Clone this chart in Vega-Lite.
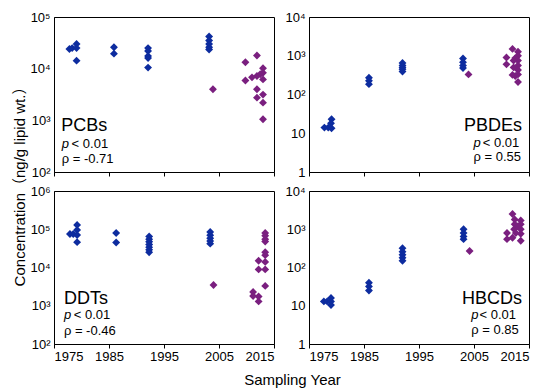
{
  "$schema": "https://vega.github.io/schema/vega-lite/v6.json",
  "padding": {"left": 11, "top": 10, "right": 5, "bottom": 5},
  "background": "white",
  "config": {
    "view": {"stroke": "black", "strokeWidth": 1},
    "axis": {"labelFont": "Liberation Sans", "labelFontSize": 13, "labelColor": "black", "titleFont": "Liberation Sans, Noto Sans CJK SC", "titleColor": "black", "titleFontWeight": "normal", "titleFontSize": 15, "grid": false, "domainColor": "black", "tickColor": "black"}
  },
  "datasets": {
    "pts": [
      {"c": "PCBs", "g": "a", "year": 1977.8, "conc": 24000},
      {"c": "PCBs", "g": "a", "year": 1978.3, "conc": 25000},
      {"c": "PCBs", "g": "a", "year": 1979.1, "conc": 30000},
      {"c": "PCBs", "g": "a", "year": 1979.1, "conc": 25000},
      {"c": "PCBs", "g": "a", "year": 1979.1, "conc": 14300},
      {"c": "PCBs", "g": "a", "year": 1985.9, "conc": 26000},
      {"c": "PCBs", "g": "a", "year": 1985.9, "conc": 19500},
      {"c": "PCBs", "g": "a", "year": 1992.1, "conc": 25000},
      {"c": "PCBs", "g": "a", "year": 1992.1, "conc": 22000},
      {"c": "PCBs", "g": "a", "year": 1992.1, "conc": 17500},
      {"c": "PCBs", "g": "a", "year": 1992.1, "conc": 16000},
      {"c": "PCBs", "g": "a", "year": 1992.1, "conc": 10500},
      {"c": "PCBs", "g": "a", "year": 2003.2, "conc": 42000},
      {"c": "PCBs", "g": "a", "year": 2003.2, "conc": 35000},
      {"c": "PCBs", "g": "a", "year": 2003.2, "conc": 30000},
      {"c": "PCBs", "g": "a", "year": 2003.2, "conc": 26000},
      {"c": "PCBs", "g": "a", "year": 2003.2, "conc": 23500},
      {"c": "PCBs", "g": "b", "year": 2003.9, "conc": 4000},
      {"c": "PCBs", "g": "b", "year": 2009.8, "conc": 13300},
      {"c": "PCBs", "g": "b", "year": 2011.9, "conc": 18000},
      {"c": "PCBs", "g": "b", "year": 2009.8, "conc": 5900},
      {"c": "PCBs", "g": "b", "year": 2011.0, "conc": 6800},
      {"c": "PCBs", "g": "b", "year": 2011.9, "conc": 7200},
      {"c": "PCBs", "g": "b", "year": 2013.0, "conc": 10200},
      {"c": "PCBs", "g": "b", "year": 2013.0, "conc": 8300},
      {"c": "PCBs", "g": "b", "year": 2012.5, "conc": 7800},
      {"c": "PCBs", "g": "b", "year": 2013.0, "conc": 6200},
      {"c": "PCBs", "g": "b", "year": 2011.9, "conc": 4000},
      {"c": "PCBs", "g": "b", "year": 2011.9, "conc": 2750},
      {"c": "PCBs", "g": "b", "year": 2013.0, "conc": 3150},
      {"c": "PCBs", "g": "b", "year": 2013.0, "conc": 2200},
      {"c": "PCBs", "g": "b", "year": 2013.0, "conc": 1050},

      {"c": "PBDEs", "g": "a", "year": 1977.8, "conc": 14},
      {"c": "PBDEs", "g": "a", "year": 1978.5, "conc": 14},
      {"c": "PBDEs", "g": "a", "year": 1979.1, "conc": 23},
      {"c": "PBDEs", "g": "a", "year": 1979.0, "conc": 18},
      {"c": "PBDEs", "g": "a", "year": 1979.1, "conc": 13.5},
      {"c": "PBDEs", "g": "a", "year": 1985.9, "conc": 270},
      {"c": "PBDEs", "g": "a", "year": 1985.9, "conc": 225},
      {"c": "PBDEs", "g": "a", "year": 1985.9, "conc": 185},
      {"c": "PBDEs", "g": "a", "year": 1992.0, "conc": 650},
      {"c": "PBDEs", "g": "a", "year": 1992.0, "conc": 560},
      {"c": "PBDEs", "g": "a", "year": 1992.0, "conc": 500},
      {"c": "PBDEs", "g": "a", "year": 1992.0, "conc": 450},
      {"c": "PBDEs", "g": "a", "year": 1992.0, "conc": 390},
      {"c": "PBDEs", "g": "a", "year": 2003.0, "conc": 850},
      {"c": "PBDEs", "g": "a", "year": 2003.0, "conc": 680},
      {"c": "PBDEs", "g": "a", "year": 2003.0, "conc": 560},
      {"c": "PBDEs", "g": "a", "year": 2003.0, "conc": 480},
      {"c": "PBDEs", "g": "b", "year": 2004.0, "conc": 330},
      {"c": "PBDEs", "g": "b", "year": 2012.0, "conc": 1500},
      {"c": "PBDEs", "g": "b", "year": 2010.9, "conc": 900},
      {"c": "PBDEs", "g": "b", "year": 2010.9, "conc": 600},
      {"c": "PBDEs", "g": "b", "year": 2012.2, "conc": 750},
      {"c": "PBDEs", "g": "b", "year": 2013.0, "conc": 1270},
      {"c": "PBDEs", "g": "b", "year": 2013.0, "conc": 1000},
      {"c": "PBDEs", "g": "b", "year": 2013.0, "conc": 750},
      {"c": "PBDEs", "g": "b", "year": 2013.0, "conc": 560},
      {"c": "PBDEs", "g": "b", "year": 2013.0, "conc": 430},
      {"c": "PBDEs", "g": "b", "year": 2013.0, "conc": 330},
      {"c": "PBDEs", "g": "b", "year": 2013.0, "conc": 210},
      {"c": "PBDEs", "g": "b", "year": 2012.0, "conc": 320},
      {"c": "PBDEs", "g": "b", "year": 2012.5, "conc": 300},
      {"c": "PBDEs", "g": "b", "year": 2012.2, "conc": 500},
      {"c": "PBDEs", "g": "b", "year": 2012.5, "conc": 870},

      {"c": "DDTs", "g": "a", "year": 1977.9, "conc": 75000},
      {"c": "DDTs", "g": "a", "year": 1978.5, "conc": 75000},
      {"c": "DDTs", "g": "a", "year": 1979.2, "conc": 130000},
      {"c": "DDTs", "g": "a", "year": 1979.2, "conc": 96000},
      {"c": "DDTs", "g": "a", "year": 1979.2, "conc": 71000},
      {"c": "DDTs", "g": "a", "year": 1979.2, "conc": 46000},
      {"c": "DDTs", "g": "a", "year": 1986.3, "conc": 80000},
      {"c": "DDTs", "g": "a", "year": 1986.3, "conc": 45000},
      {"c": "DDTs", "g": "a", "year": 1992.3, "conc": 65000},
      {"c": "DDTs", "g": "a", "year": 1992.3, "conc": 55000},
      {"c": "DDTs", "g": "a", "year": 1992.3, "conc": 47000},
      {"c": "DDTs", "g": "a", "year": 1992.3, "conc": 40000},
      {"c": "DDTs", "g": "a", "year": 1992.3, "conc": 34000},
      {"c": "DDTs", "g": "a", "year": 1992.3, "conc": 29000},
      {"c": "DDTs", "g": "a", "year": 1992.3, "conc": 25000},
      {"c": "DDTs", "g": "a", "year": 2003.4, "conc": 85000},
      {"c": "DDTs", "g": "a", "year": 2003.4, "conc": 70000},
      {"c": "DDTs", "g": "a", "year": 2003.4, "conc": 58000},
      {"c": "DDTs", "g": "a", "year": 2003.4, "conc": 49000},
      {"c": "DDTs", "g": "a", "year": 2003.4, "conc": 42000},
      {"c": "DDTs", "g": "b", "year": 2004.0, "conc": 3500},
      {"c": "DDTs", "g": "b", "year": 2013.4, "conc": 80000},
      {"c": "DDTs", "g": "b", "year": 2013.4, "conc": 68000},
      {"c": "DDTs", "g": "b", "year": 2013.4, "conc": 55000},
      {"c": "DDTs", "g": "b", "year": 2013.4, "conc": 48000},
      {"c": "DDTs", "g": "b", "year": 2013.4, "conc": 25000},
      {"c": "DDTs", "g": "b", "year": 2013.4, "conc": 21000},
      {"c": "DDTs", "g": "b", "year": 2013.4, "conc": 14000},
      {"c": "DDTs", "g": "b", "year": 2013.4, "conc": 8900},
      {"c": "DDTs", "g": "b", "year": 2012.2, "conc": 15000},
      {"c": "DDTs", "g": "b", "year": 2012.2, "conc": 8900},
      {"c": "DDTs", "g": "b", "year": 2013.4, "conc": 3300},
      {"c": "DDTs", "g": "b", "year": 2011.2, "conc": 2300},
      {"c": "DDTs", "g": "b", "year": 2011.2, "conc": 1800},
      {"c": "DDTs", "g": "b", "year": 2012.2, "conc": 1750},
      {"c": "DDTs", "g": "b", "year": 2012.2, "conc": 1300},

      {"c": "HBCDs", "g": "a", "year": 1977.7, "conc": 13},
      {"c": "HBCDs", "g": "a", "year": 1978.3, "conc": 13},
      {"c": "HBCDs", "g": "a", "year": 1979.0, "conc": 16},
      {"c": "HBCDs", "g": "a", "year": 1979.0, "conc": 13},
      {"c": "HBCDs", "g": "a", "year": 1979.0, "conc": 10.5},
      {"c": "HBCDs", "g": "a", "year": 1985.9, "conc": 40},
      {"c": "HBCDs", "g": "a", "year": 1985.9, "conc": 32},
      {"c": "HBCDs", "g": "a", "year": 1985.9, "conc": 25},
      {"c": "HBCDs", "g": "a", "year": 1992.0, "conc": 320},
      {"c": "HBCDs", "g": "a", "year": 1992.0, "conc": 260},
      {"c": "HBCDs", "g": "a", "year": 1992.0, "conc": 215},
      {"c": "HBCDs", "g": "a", "year": 1992.0, "conc": 180},
      {"c": "HBCDs", "g": "a", "year": 1992.0, "conc": 150},
      {"c": "HBCDs", "g": "a", "year": 2003.1, "conc": 1000},
      {"c": "HBCDs", "g": "a", "year": 2003.1, "conc": 800},
      {"c": "HBCDs", "g": "a", "year": 2003.1, "conc": 650},
      {"c": "HBCDs", "g": "a", "year": 2003.1, "conc": 550},
      {"c": "HBCDs", "g": "b", "year": 2004.2, "conc": 270},
      {"c": "HBCDs", "g": "b", "year": 2012.0, "conc": 2500},
      {"c": "HBCDs", "g": "b", "year": 2011.0, "conc": 800},
      {"c": "HBCDs", "g": "b", "year": 2011.0, "conc": 550},
      {"c": "HBCDs", "g": "b", "year": 2012.4, "conc": 1800},
      {"c": "HBCDs", "g": "b", "year": 2012.4, "conc": 1350},
      {"c": "HBCDs", "g": "b", "year": 2013.5, "conc": 1700},
      {"c": "HBCDs", "g": "b", "year": 2013.5, "conc": 1350},
      {"c": "HBCDs", "g": "b", "year": 2013.5, "conc": 1000},
      {"c": "HBCDs", "g": "b", "year": 2013.5, "conc": 760},
      {"c": "HBCDs", "g": "b", "year": 2013.5, "conc": 500},
      {"c": "HBCDs", "g": "b", "year": 2012.3, "conc": 1000},
      {"c": "HBCDs", "g": "b", "year": 2012.6, "conc": 800},
      {"c": "HBCDs", "g": "b", "year": 2012.0, "conc": 600},
      {"c": "HBCDs", "g": "b", "year": 2013.0, "conc": 1200}
    ],
    "lbl": [
      {"c": "PCBs", "k": "name", "t": "PCBs", "year": 1976.3, "conc": 620},
      {"c": "PCBs", "k": "p", "t": "p", "year": 1976.4, "conc": 285},
      {"c": "PCBs", "k": "stat", "t": "< 0.01", "year": 1978.2, "conc": 285},
      {"c": "PCBs", "k": "stat", "t": "ρ = -0.71", "year": 1976.4, "conc": 147},
      {"c": "PBDEs", "k": "name", "t": "PBDEs", "year": 2003.2, "conc": 11.6},
      {"c": "PBDEs", "k": "p", "t": "p", "year": 2004.9, "conc": 4.5},
      {"c": "PBDEs", "k": "stat", "t": "< 0.01", "year": 2006.6, "conc": 4.5},
      {"c": "PBDEs", "k": "stat", "t": "ρ = 0.55", "year": 2004.9, "conc": 1.9},
      {"c": "DDTs", "k": "name", "t": "DDTs", "year": 1976.8, "conc": 1100},
      {"c": "DDTs", "k": "p", "t": "p", "year": 1976.8, "conc": 440},
      {"c": "DDTs", "k": "stat", "t": "< 0.01", "year": 1978.6, "conc": 440},
      {"c": "DDTs", "k": "stat", "t": "ρ = -0.46", "year": 1976.8, "conc": 172},
      {"c": "HBCDs", "k": "name", "t": "HBCDs", "year": 2002.8, "conc": 11.3},
      {"c": "HBCDs", "k": "p", "t": "p", "year": 2004.5, "conc": 4.55},
      {"c": "HBCDs", "k": "stat", "t": "< 0.01", "year": 2006.0, "conc": 4.55},
      {"c": "HBCDs", "k": "stat", "t": "ρ = 0.85", "year": 2004.5, "conc": 1.8}
    ]
  },
  "concat": [
    {
      "width": 220, "height": 155,
      "encoding": {
        "x": {"field": "year", "type": "quantitative", "scale": {"domain": [1975, 2015], "nice": false, "zero": false},
              "axis": {"values": [1975, 1985, 1995, 2005, 2015], "labels": false, "tickSize": 4, "title": null}},
        "y": {"field": "conc", "type": "quantitative", "scale": {"type": "log", "domain": [100, 100000], "nice": false},
              "axis": {"values": [100, 1000, 10000, 100000], "ticks": false, "labelPadding": 4, "labelExpr": "datum.value < 5 ? '1' : datum.value < 50 ? '10' : '10' + ['','','²','³','⁴','⁵','⁶'][round(log(datum.value)/LN10)]",
                       "title": "Concentration（ng/g lipid wt.）", "titleX": -35, "titleY": 165.5, "titleAngle": -90, "titleAlign": "center", "titleBaseline": "middle"}}
      },
      "layer": [
        {"data": {"name": "pts"}, "transform": [{"filter": "datum.c === 'PCBs'"}],
         "mark": {"type": "point", "shape": "diamond", "filled": true, "size": 62, "opacity": 1},
         "encoding": {"color": {"field": "g", "type": "nominal", "scale": {"domain": ["a", "b"], "range": ["#0d2c9f", "#7a1f7f"]}, "legend": null}}},
        {"data": {"name": "lbl"}, "transform": [{"filter": "datum.c === 'PCBs' && datum.k === 'name'"}],
         "mark": {"type": "text", "align": "left", "baseline": "alphabetic", "fontSize": 18, "font": "Liberation Sans", "color": "black"},
         "encoding": {"text": {"field": "t"}}},
        {"data": {"name": "lbl"}, "transform": [{"filter": "datum.c === 'PCBs' && datum.k === 'stat'"}],
         "mark": {"type": "text", "align": "left", "baseline": "alphabetic", "fontSize": 13, "font": "Liberation Sans", "color": "black"},
         "encoding": {"text": {"field": "t"}}},
        {"data": {"name": "lbl"}, "transform": [{"filter": "datum.c === 'PCBs' && datum.k === 'p'"}],
         "mark": {"type": "text", "align": "left", "baseline": "alphabetic", "fontSize": 13, "fontStyle": "italic", "font": "Liberation Sans", "color": "black"},
         "encoding": {"text": {"field": "t"}}}
      ]
    },
    {
      "width": 220, "height": 155,
      "encoding": {
        "x": {"field": "year", "type": "quantitative", "scale": {"domain": [1975, 2015], "nice": false, "zero": false},
              "axis": {"values": [1975, 1985, 1995, 2005, 2015], "labels": false, "tickSize": 4, "title": null}},
        "y": {"field": "conc", "type": "quantitative", "scale": {"type": "log", "domain": [1, 10000], "nice": false},
              "axis": {"values": [1, 10, 100, 1000, 10000], "ticks": false, "labelPadding": 4, "labelExpr": "datum.value < 5 ? '1' : datum.value < 50 ? '10' : '10' + ['','','²','³','⁴','⁵','⁶'][round(log(datum.value)/LN10)]", "title": null}}
      },
      "layer": [
        {"data": {"name": "pts"}, "transform": [{"filter": "datum.c === 'PBDEs'"}],
         "mark": {"type": "point", "shape": "diamond", "filled": true, "size": 62, "opacity": 1},
         "encoding": {"color": {"field": "g", "type": "nominal", "scale": {"domain": ["a", "b"], "range": ["#0d2c9f", "#7a1f7f"]}, "legend": null}}},
        {"data": {"name": "lbl"}, "transform": [{"filter": "datum.c === 'PBDEs' && datum.k === 'name'"}],
         "mark": {"type": "text", "align": "left", "baseline": "alphabetic", "fontSize": 18, "font": "Liberation Sans", "color": "black"},
         "encoding": {"text": {"field": "t"}}},
        {"data": {"name": "lbl"}, "transform": [{"filter": "datum.c === 'PBDEs' && datum.k === 'stat'"}],
         "mark": {"type": "text", "align": "left", "baseline": "alphabetic", "fontSize": 13, "font": "Liberation Sans", "color": "black"},
         "encoding": {"text": {"field": "t"}}},
        {"data": {"name": "lbl"}, "transform": [{"filter": "datum.c === 'PBDEs' && datum.k === 'p'"}],
         "mark": {"type": "text", "align": "left", "baseline": "alphabetic", "fontSize": 13, "fontStyle": "italic", "font": "Liberation Sans", "color": "black"},
         "encoding": {"text": {"field": "t"}}}
      ]
    },
    {
      "width": 220, "height": 153,
      "encoding": {
        "x": {"field": "year", "type": "quantitative", "scale": {"domain": [1975, 2015], "nice": false, "zero": false},
              "axis": {"values": [1975, 1985, 1995, 2005, 2015], "format": "d", "tickSize": 4, "labelPadding": 2,
                       "title": "Sampling Year", "titleX": 238, "titleAlign": "center", "titlePadding": 9}},
        "y": {"field": "conc", "type": "quantitative", "scale": {"type": "log", "domain": [100, 1000000], "nice": false},
              "axis": {"values": [100, 1000, 10000, 100000, 1000000], "ticks": false, "labelPadding": 4, "labelExpr": "datum.value < 5 ? '1' : datum.value < 50 ? '10' : '10' + ['','','²','³','⁴','⁵','⁶'][round(log(datum.value)/LN10)]", "title": null}}
      },
      "layer": [
        {"data": {"name": "pts"}, "transform": [{"filter": "datum.c === 'DDTs'"}],
         "mark": {"type": "point", "shape": "diamond", "filled": true, "size": 62, "opacity": 1},
         "encoding": {"color": {"field": "g", "type": "nominal", "scale": {"domain": ["a", "b"], "range": ["#0d2c9f", "#7a1f7f"]}, "legend": null}}},
        {"data": {"name": "lbl"}, "transform": [{"filter": "datum.c === 'DDTs' && datum.k === 'name'"}],
         "mark": {"type": "text", "align": "left", "baseline": "alphabetic", "fontSize": 18, "font": "Liberation Sans", "color": "black"},
         "encoding": {"text": {"field": "t"}}},
        {"data": {"name": "lbl"}, "transform": [{"filter": "datum.c === 'DDTs' && datum.k === 'stat'"}],
         "mark": {"type": "text", "align": "left", "baseline": "alphabetic", "fontSize": 13, "font": "Liberation Sans", "color": "black"},
         "encoding": {"text": {"field": "t"}}},
        {"data": {"name": "lbl"}, "transform": [{"filter": "datum.c === 'DDTs' && datum.k === 'p'"}],
         "mark": {"type": "text", "align": "left", "baseline": "alphabetic", "fontSize": 13, "fontStyle": "italic", "font": "Liberation Sans", "color": "black"},
         "encoding": {"text": {"field": "t"}}}
      ]
    },
    {
      "width": 220, "height": 153,
      "encoding": {
        "x": {"field": "year", "type": "quantitative", "scale": {"domain": [1975, 2015], "nice": false, "zero": false},
              "axis": {"values": [1975, 1985, 1995, 2005, 2015], "format": "d", "tickSize": 4, "labelPadding": 2, "labelFlush": true, "title": null}},
        "y": {"field": "conc", "type": "quantitative", "scale": {"type": "log", "domain": [1, 10000], "nice": false},
              "axis": {"values": [1, 10, 100, 1000, 10000], "ticks": false, "labelPadding": 4, "labelExpr": "datum.value < 5 ? '1' : datum.value < 50 ? '10' : '10' + ['','','²','³','⁴','⁵','⁶'][round(log(datum.value)/LN10)]", "title": null}}
      },
      "layer": [
        {"data": {"name": "pts"}, "transform": [{"filter": "datum.c === 'HBCDs'"}],
         "mark": {"type": "point", "shape": "diamond", "filled": true, "size": 62, "opacity": 1},
         "encoding": {"color": {"field": "g", "type": "nominal", "scale": {"domain": ["a", "b"], "range": ["#0d2c9f", "#7a1f7f"]}, "legend": null}}},
        {"data": {"name": "lbl"}, "transform": [{"filter": "datum.c === 'HBCDs' && datum.k === 'name'"}],
         "mark": {"type": "text", "align": "left", "baseline": "alphabetic", "fontSize": 18, "font": "Liberation Sans", "color": "black"},
         "encoding": {"text": {"field": "t"}}},
        {"data": {"name": "lbl"}, "transform": [{"filter": "datum.c === 'HBCDs' && datum.k === 'stat'"}],
         "mark": {"type": "text", "align": "left", "baseline": "alphabetic", "fontSize": 13, "font": "Liberation Sans", "color": "black"},
         "encoding": {"text": {"field": "t"}}},
        {"data": {"name": "lbl"}, "transform": [{"filter": "datum.c === 'HBCDs' && datum.k === 'p'"}],
         "mark": {"type": "text", "align": "left", "baseline": "alphabetic", "fontSize": 13, "fontStyle": "italic", "font": "Liberation Sans", "color": "black"},
         "encoding": {"text": {"field": "t"}}}
      ]
    }
  ],
  "columns": 2,
  "spacing": {"row": 19, "column": 35},
  "bounds": "flush",
  "resolve": {"scale": {"x": "independent", "y": "independent", "color": "independent"}}
}
